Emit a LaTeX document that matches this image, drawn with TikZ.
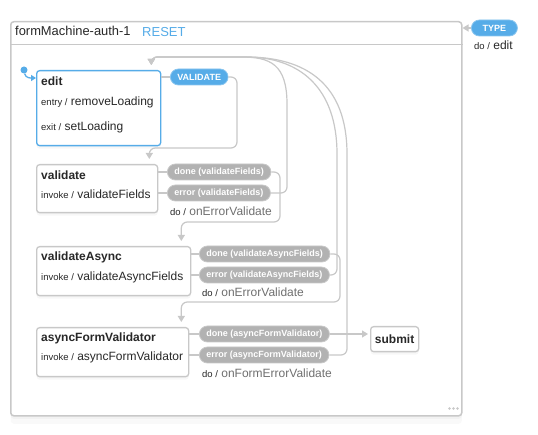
\documentclass[tikz,border=0pt]{standalone}
\usepackage{fontspec}
\setmainfont{Liberation Sans}
\usepackage{xcolor}
\usepackage{tikz}
\usetikzlibrary{positioning,arrows.meta,shadows}

\definecolor{xblue}{RGB}{86,172,232}
\definecolor{pillgrey}{RGB}{178,178,178}
\definecolor{linegrey}{RGB}{200,200,200}
\definecolor{txt}{RGB}{40,40,40}
\definecolor{actgrey}{RGB}{112,112,112}

\newcommand{\actkw}[1]{{\fontsize{9.5}{11}\selectfont #1}}

\begin{document}
\begin{tikzpicture}[x=1pt, y=-1pt,
	every node/.style={inner sep=0pt, text=txt},
	state/.style={draw=linegrey, line width=1.3pt, rounded corners=3pt, fill=white, anchor=north west,
		drop shadow={shadow xshift=0pt, shadow yshift=-3pt, opacity=.06}},
	active/.style={state, draw=xblue},
	statename/.style={anchor=base west, font=\bfseries\fontsize{12}{14}\selectfont},
	action/.style={anchor=base west, font=\fontsize{12}{14}\selectfont},
	doact/.style={anchor=base west, font=\fontsize{12}{14}\selectfont, text=actgrey},
	evt/.style={anchor=west, minimum height=16pt, inner xsep=7pt, rounded corners=8pt, fill=pillgrey, draw=linegrey, line width=0.8pt, text=white, font=\bfseries\fontsize{9}{10}\selectfont},
	evtblue/.style={evt, fill=xblue, draw=xblue!70!white},
	conn/.style={draw=linegrey, line width=1.2pt, rounded corners=6pt},
	tran/.style={conn, -{Triangle[length=6pt,width=7pt]}, shorten >=5pt}]

	\useasboundingbox (0,0) rectangle (538,435);

	\node[state, minimum width=451pt, minimum height=394pt, line width=1.5pt,
		drop shadow={shadow xshift=0pt, shadow yshift=-8pt, opacity=.05}] (machine) at (10,21) {};
	\draw[draw=linegrey, line width=0.8pt] (machine.west |- 0,44) -- (machine.east |- 0,44);
	\node[anchor=base west, font=\fontsize{12.9}{15}\selectfont] (title) at (15,36) {formMachine-auth-1};
	\node[anchor=base west, font=\fontsize{13}{15}\selectfont, text=xblue] (reset) at (142,37) {RESET};

	\node[active, minimum width=124pt, minimum height=75pt] (edit) at (36,70) {};
	\node[state, minimum width=121pt, minimum height=48pt] (validate) at (36,164) {};
	\node[state, minimum width=154pt, minimum height=49pt] (validateAsync) at (36,246) {};
	\node[state, minimum width=152pt, minimum height=49pt] (asyncFormValidator) at (36,327) {};
	\node[state, minimum width=48pt, minimum height=25pt, font=\bfseries\fontsize{12}{14}\selectfont, anchor=north west] (submit) at (370,326) {submit};

	\node[statename] (editName) at ([xshift=5pt,yshift=-16pt]edit.north west) {edit};
	\node[action] (editEntry) at ([xshift=5pt,yshift=-36pt]edit.north west) {\actkw{entry /} removeLoading};
	\node[action] (editExit) at ([xshift=5pt,yshift=-61pt]edit.north west) {\actkw{exit /} setLoading};

	\node[statename] (validateName) at ([xshift=5pt,yshift=-16pt]validate.north west) {validate};
	\node[action] (validateInvoke) at ([xshift=5pt,yshift=-35pt]validate.north west) {\actkw{invoke /} validateFields};

	\node[statename] (validateAsyncName) at ([xshift=5pt,yshift=-15pt]validateAsync.north west) {validateAsync};
	\node[action] (validateAsyncInvoke) at ([xshift=5pt,yshift=-35pt]validateAsync.north west) {\actkw{invoke /} validateAsyncFields};

	\node[statename] (afvName) at ([xshift=5pt,yshift=-15pt]asyncFormValidator.north west) {asyncFormValidator};
	\node[action] (afvInvoke) at ([xshift=5pt,yshift=-34pt]asyncFormValidator.north west) {\actkw{invoke /} asyncFormValidator};

	\node[evtblue] (evValidate) at (170,77) {VALIDATE};
	\node[evt] (doneVal) at (167,172) {done (validateFields)};
	\node[evt] (errVal) at (167,193) {error (validateFields)};
	\node[doact] (errValDo) at ([xshift=3pt,yshift=-14pt]errVal.south west) {\textcolor{txt}{\actkw{do /}} onErrorValidate};
	\node[evt] (doneAsync) at (199,254) {done (validateAsyncFields)};
	\node[evt] (errAsync) at (199,275) {error (validateAsyncFields)};
	\node[doact] (errAsyncDo) at ([xshift=3pt,yshift=-13pt]errAsync.south west) {\textcolor{txt}{\actkw{do /}} onErrorValidate};
	\node[evt] (doneAfv) at (199,334) {done (asyncFormValidator)};
	\node[evt] (errAfv) at (199,355) {error (asyncFormValidator)};
	\node[doact] (errAfvDo) at ([xshift=3pt,yshift=-14pt]errAfv.south west) {\textcolor{txt}{\actkw{do /}} onFormErrorValidate};

	\node[evtblue, minimum width=46pt] (evType) at (471,28) {TYPE};
	\node[action] (typeDo) at ([xshift=3pt,yshift=-13pt]evType.south west) {\actkw{do /} edit};

	\node[circle, fill=xblue, minimum size=7pt] (init) at (24,70) {};
	\draw[xblue, line width=1.3pt, -{Triangle[length=5pt,width=6pt]}] (init) to[out=-80, in=180] ([yshift=-8pt]edit.north west);

	\draw[conn] (evValidate.west -| edit.east) -- (evValidate.west);
	\draw[conn] (doneVal.west -| validate.east) -- (doneVal.west);
	\draw[conn] (errVal.west -| validate.east) -- (errVal.west);
	\draw[conn] (doneAsync.west -| validateAsync.east) -- (doneAsync.west);
	\draw[conn] (errAsync.west -| validateAsync.east) -- (errAsync.west);
	\draw[conn] (doneAfv.west -| asyncFormValidator.east) -- (doneAfv.west);
	\draw[conn] (errAfv.west -| asyncFormValidator.east) -- (errAfv.west);

	\draw[tran] (evValidate.east) -| (237,148) -| ([xshift=-9pt]validate.north east);
	\draw[tran] (doneVal.east) -| (280,222) -| ([xshift=-10pt]validateAsync.north east);
	\draw[tran] (doneAsync.east) -| (340,302) -| ([xshift=-8pt]asyncFormValidator.north east);
	\draw[tran, shorten >=2pt] (doneAfv.east) -- (doneAfv.east -| submit.west);

	\draw[tran] (errVal.east) -| (287,110) .. controls (287,64) and (270,57) .. (235,57) -| ([xshift=-10pt]edit.north east);
	\draw[tran] (errAsync.east) -| (337,160) .. controls (337,88) and (300,57) .. (240,57) -| ([xshift=-10pt]edit.north east);
	\draw[tran] (errAfv.east) -| (347,160) .. controls (347,84) and (306,57) .. (240,57) -| ([xshift=-10pt]edit.north east);

	\draw[tran, shorten >=0pt] (evType.west) -- (evType.west -| machine.east);

	\foreach \i in {-4,0,4}
		\fill[linegrey] ([xshift=\i pt]machine.south east) ++(-9,-8) circle (1.3pt);

\end{tikzpicture}
\end{document}
